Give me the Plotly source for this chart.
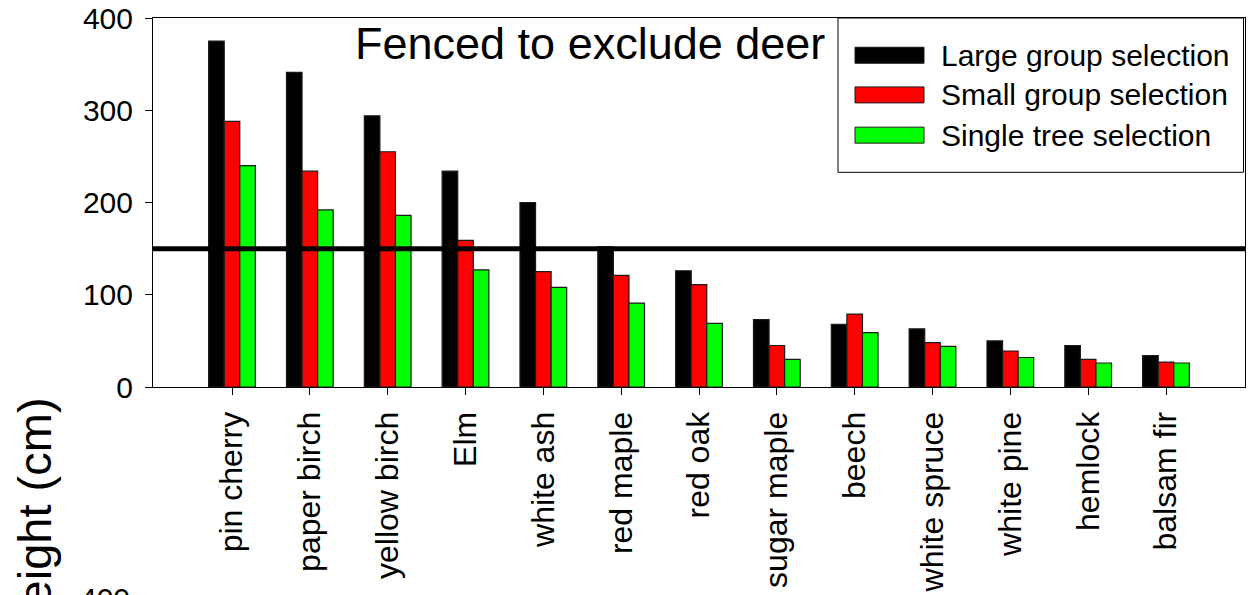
import plotly.graph_objects as go

# Species along the x axis
species = ["pin cherry", "paper birch", "yellow birch", "Elm", "white ash",
           "red maple", "red oak", "sugar maple", "beech", "white spruce",
           "white pine", "hemlock", "balsam fir"]

# Mean seedling height (cm) inside the deer exclosures, by harvest treatment
large_group = [375, 341, 294, 234, 200, 152, 126, 73, 68, 63, 50, 45, 34]
small_group = [288, 234, 255, 159, 125, 121, 111, 45, 79, 48, 39, 30, 27]
single_tree = [240, 192, 186, 127, 108, 91, 69, 30, 59, 44, 32, 26, 26]

series_names = ["Large group selection", "Small group selection", "Single tree selection"]
series_colors = ["#000000", "#ff0000", "#00ff00"]
series_values = [large_group, small_group, single_tree]

y_ticks = [0, 100, 200, 300, 400]
reference_height = 150

FONT = "Liberation Sans, Arial, sans-serif"

W, H = 1253, 595
L, R, T, B = 153, 8, 18, 207.5
plot_w = W - L - R
plot_h = H - T - B


def px_x(p):
    return (p - L) / plot_w


def px_y(p):
    return (H - B - p) / plot_h


fig = go.Figure()
for name, color, vals in zip(series_names, series_colors, series_values):
    fig.add_trace(go.Bar(
        x=species, y=vals, name=name,
        marker=dict(color=color, line=dict(color="#1a1a1a", width=1.2)),
        showlegend=False,
    ))

shapes = [
    # reference height line
    dict(type="line", xref="paper", yref="y", x0=0, x1=1,
         y0=reference_height, y1=reference_height,
         line=dict(color="black", width=5)),
    # legend frame
    dict(type="rect", xref="paper", yref="paper",
         x0=px_x(838), x1=px_x(1243.5), y0=px_y(172.5), y1=px_y(18),
         fillcolor="white", line=dict(color="black", width=1)),
]

annotations = [
    dict(text="Fenced to exclude deer", xref="paper", yref="paper",
         x=px_x(589.5), y=px_y(44), xanchor="center", yanchor="middle",
         showarrow=False, font=dict(family=FONT, size=45, color="black")),
    dict(text="Height (cm)", xref="paper", yref="paper",
         x=px_x(34), y=px_y(520), xanchor="center", yanchor="middle",
         textangle=-90, showarrow=False,
         font=dict(family=FONT, size=47, color="black")),
    dict(text="400", xref="paper", yref="paper",
         x=px_x(132), y=px_y(599), xanchor="right", yanchor="middle",
         showarrow=False, font=dict(family=FONT, size=30, color="black")),
]

# legend entries
row_centers = [55.3, 95, 135.3]
for name, color, yc in zip(series_names, series_colors, row_centers):
    shapes.append(dict(type="rect", xref="paper", yref="paper",
                       x0=px_x(855), x1=px_x(924), y0=px_y(yc + 8), y1=px_y(yc - 8),
                       fillcolor=color, line=dict(color="#1a1a1a", width=1)))
    annotations.append(dict(text=name, xref="paper", yref="paper",
                            x=px_x(939), y=px_y(yc), xanchor="left", yanchor="middle",
                            showarrow=False,
                            font=dict(family=FONT, size=30, color="black")))

fig.update_layout(
    width=W, height=H,
    margin=dict(l=L, r=R, t=T, b=B, pad=0, autoexpand=False),
    paper_bgcolor="white", plot_bgcolor="white",
    barmode="group", bargap=0.4, bargroupgap=0,
    font=dict(family=FONT, color="black"),
    shapes=shapes, annotations=annotations,
    xaxis=dict(
        range=[-1.015, 13.015], showgrid=False, zeroline=False, automargin=False,
        showline=True, mirror=True, linecolor="black", linewidth=1,
        ticks="outside", ticklen=7, tickwidth=1, tickcolor="black",
        tickangle=-90, ticklabelstandoff=4,
        tickfont=dict(family=FONT, size=32, color="black"),
    ),
    yaxis=dict(
        range=[0, 400], tickvals=y_ticks, showgrid=False, zeroline=False, automargin=False,
        showline=True, mirror=True, linecolor="black", linewidth=1,
        ticks="outside", ticklen=7, tickwidth=1, tickcolor="black",
        ticklabelstandoff=6,
        tickfont=dict(family=FONT, size=30, color="black"),
    ),
)

fig.write_html("out.html")
